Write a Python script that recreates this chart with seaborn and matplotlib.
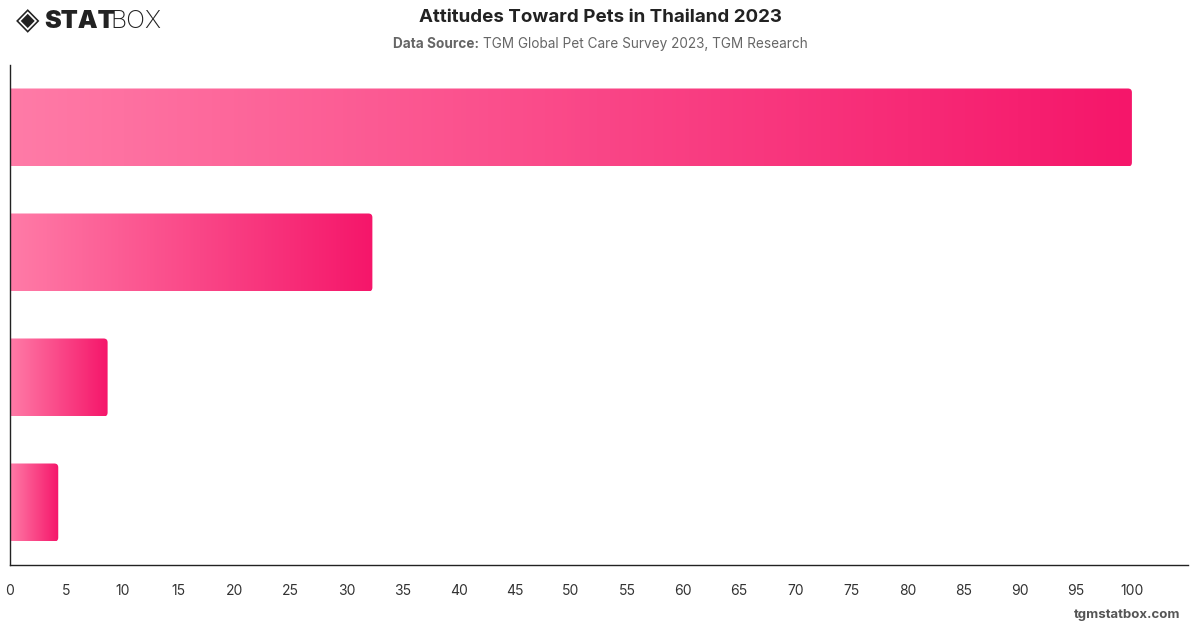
import numpy as np
import pandas as pd
import matplotlib
matplotlib.use("Agg")
import matplotlib.pyplot as plt
import seaborn as sns
from matplotlib.patches import FancyBboxPatch
from matplotlib.colors import LinearSegmentedColormap

# Chart data (category labels are not shown on the chart)
categories = ["Attitude A", "Attitude B", "Attitude C", "Attitude D"]
values = [100, 32.3, 8.7, 4.3]
x_ticks = list(range(0, 101, 5))

df = pd.DataFrame({"category": categories, "value": values})

sns.set_theme(style="white")
plt.rcParams['font.family'] = ['Inter', 'DejaVu Sans']

fig = plt.figure(figsize=(12, 6.28), dpi=100)
ax = fig.add_axes([10 / 1200, 63 / 628, 1178 / 1200, 500 / 628])

sns.barplot(data=df, x="value", y="category", orient="h", width=0.624,
            color="#f5166a", ax=ax)

ax.set_xlim(0, 105)
ax.set_ylim(3.5, -0.5)

# gradient fill: light pink on the left to hot pink on the right
cmap = LinearSegmentedColormap.from_list("pinks", ["#ff7ba7", "#f5166a"])
grad = np.linspace(0, 1, 256).reshape(1, -1)
px_per_x = 1178 / 105
px_per_y = 500 / 4
for bar in list(ax.patches):
    x0, y0 = bar.get_x(), bar.get_y()
    w, h = bar.get_width(), bar.get_height()
    bar.set_visible(False)
    clip = FancyBboxPatch((x0 - 2, y0), w + 2, h,
                          boxstyle="round,pad=0,rounding_size=0.35",
                          mutation_aspect=px_per_x / px_per_y,
                          facecolor="none", edgecolor="none",
                          transform=ax.transData)
    ax.add_patch(clip)
    im = ax.imshow(grad, cmap=cmap, aspect="auto",
                   extent=[x0, x0 + w, y0 + h, y0], zorder=2)
    im.set_clip_path(clip)

ax.set_ylim(3.5, -0.5)
ax.set_xlim(0, 105)
ax.set_xticks(x_ticks)
ax.set_xticklabels([str(t) for t in x_ticks])
ax.set_yticks([])
ax.set_xlabel("")
ax.set_ylabel("")
ax.tick_params(axis="x", length=0, pad=14, labelsize=10, colors="#333333")
for side in ["top", "right"]:
    ax.spines[side].set_visible(False)
for side in ["left", "bottom"]:
    ax.spines[side].set_color("#222222")
    ax.spines[side].set_linewidth(1)

# title and subtitle
fig.text(0.5, 1 - 17 / 628, "Attitudes Toward Pets in Thailand 2023",
         ha="center", va="center", fontsize=13.5, fontweight="bold", color="#222222")
sub_y = 1 - 44 / 628
t1 = fig.text(393 / 1200, sub_y, "Data Source:", ha="left", va="center",
              fontsize=9.8, fontweight="bold", color="#666666")
fig.canvas.draw()
bb = t1.get_window_extent()
fig.text(bb.x1 / 1200 + 4 / 1200, sub_y, "TGM Global Pet Care Survey 2023, TGM Research",
         ha="left", va="center", fontsize=9.8, color="#666666")

# logo
fig.text(28 / 1200, 1 - 21 / 628, "\u25c8", ha="center", va="center",
         fontsize=22, color="#222222", family=["DejaVu Sans"])
fig.text(44 / 1200, 1 - 21 / 628, "STAT", ha="left", va="center",
         fontsize=18, fontweight="black", color="#222222")
fig.text(110 / 1200, 1 - 21 / 628, "BOX", ha="left", va="center",
         fontsize=18, fontweight="light", color="#222222")

# footer
fig.text(1180 / 1200, 1 - 615 / 628, "tgmstatbox.com", ha="right", va="center",
         fontsize=9.5, fontweight="bold", color="#555555")

fig.savefig("out.png", dpi=100, facecolor="white")
